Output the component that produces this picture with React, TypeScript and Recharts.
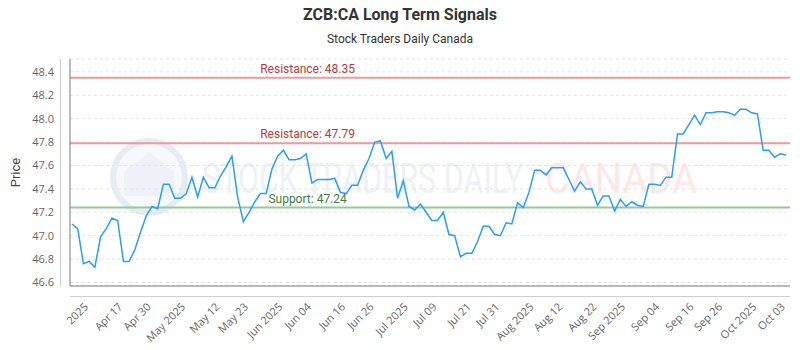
import React from 'react';
import { LineChart, Line, XAxis, YAxis, CartesianGrid, ReferenceLine } from 'recharts';

// closing prices, one per trading day
const prices = [
  47.10, 47.06, 46.76, 46.78, 46.73, 46.99, 47.06, 47.15, 47.13, 46.78,
  46.78, 46.88, 47.03, 47.17, 47.25, 47.23, 47.44, 47.44, 47.32, 47.32,
  47.36, 47.50, 47.33, 47.50, 47.41, 47.41, 47.51, 47.59, 47.68, 47.33,
  47.12, 47.20, 47.29, 47.36, 47.36, 47.57, 47.68, 47.73, 47.65, 47.65,
  47.66, 47.70, 47.45, 47.48, 47.48, 47.48, 47.49, 47.37, 47.36, 47.43,
  47.43, 47.56, 47.66, 47.80, 47.81, 47.66, 47.72, 47.32, 47.47, 47.25,
  47.22, 47.27, 47.20, 47.13, 47.13, 47.20, 47.01, 47.00, 46.82, 46.85,
  46.85, 46.95, 47.08, 47.08, 47.01, 47.00, 47.11, 47.10, 47.28, 47.24,
  47.37, 47.56, 47.56, 47.52, 47.58, 47.58, 47.58, 47.48, 47.38, 47.46,
  47.40, 47.40, 47.26, 47.34, 47.34, 47.21, 47.31, 47.25, 47.29, 47.26,
  47.25, 47.44, 47.44, 47.43, 47.50, 47.50, 47.87, 47.87, 47.95, 48.03,
  47.95, 48.05, 48.05, 48.06, 48.06, 48.05, 48.03, 48.08, 48.08, 48.05,
  48.04, 47.73, 47.73, 47.67, 47.70, 47.69,
];

const tickIndex = [2, 8, 13, 19, 25, 30, 36, 41, 47, 52, 58, 63, 69, 74, 80, 85, 91, 96, 102, 108, 113, 119, 124];
const tickLabels = [
  '2025', 'Apr 17', 'Apr 30', 'May 2025', 'May 12', 'May 23', 'Jun 2025', 'Jun 04', 'Jun 16', 'Jun 26',
  'Jul 2025', 'Jul 09', 'Jul 21', 'Jul 31', 'Aug 2025', 'Aug 12', 'Aug 22', 'Sep 2025', 'Sep 04', 'Sep 16',
  'Sep 26', 'Oct 2025', 'Oct 03',
];
const yTicks = [46.6, 46.8, 47.0, 47.2, 47.4, 47.6, 47.8, 48.0, 48.2, 48.4];

const resistanceLevels = [48.35, 47.79];
const supportLevels = [47.24];

const data = prices.map((price, i) => ({ i, price }));

const FONT = 'Roboto, "Open Sans", sans-serif';
const BOX = '#7a7a7a';

const LevelLabel = ({ viewBox, text, color }: any) => {
  const { x, y, width } = viewBox;
  return (
    <text x={x + width * 0.33} y={y - 5} fill={color} fontSize={12} fontFamily={FONT} textAnchor="middle">
      {text}
    </text>
  );
};

const PriceLabel = ({ viewBox }: any) => {
  const cy = viewBox.y + viewBox.height / 2;
  return (
    <text x={20} y={cy} fill="#444" fontSize={13} fontFamily={FONT} textAnchor="middle" transform={`rotate(-90 20 ${cy})`}>
      Price
    </text>
  );
};

export default function App() {
  return (
    <div style={{ position: 'fixed', left: 0, top: 0, width: 800, height: 350, background: '#fff', fontFamily: FONT }}>
      {/* watermark + offset axis lines */}
      <svg width={800} height={350} style={{ position: 'absolute', left: 0, top: 0 }}>
        <circle cx={149} cy={177} r={36} fill="#f6f8fc" stroke="#e6ebf4" strokeWidth={6} />
        <path d="M124 196 L124 172 L149 152 L174 172 L174 196 Z" fill="#eef2f8" />
        <text x={202} y={193} fontSize={42} fill="#eef1f7" textLength={321} lengthAdjust="spacingAndGlyphs" fontFamily={FONT}>
          STOCK TRADERS DAILY
        </text>
        <text x={545} y={193} fontSize={42} fill="#fde8e8" textLength={152} lengthAdjust="spacingAndGlyphs" fontFamily={FONT}>
          CANADA
        </text>
        <line x1={60.5} y1={59} x2={60.5} y2={287} stroke="#cfcfcf" />
        <line x1={70} y1={296.5} x2={790} y2={296.5} stroke="#cfcfcf" />
      </svg>

      <div style={{ position: 'absolute', top: 5, width: 800, textAlign: 'center', fontSize: 16, fontWeight: 700, color: '#333' }}>
        ZCB:CA Long Term Signals
      </div>
      <div style={{ position: 'absolute', top: 32, width: 800, textAlign: 'center', fontSize: 12, color: '#333' }}>
        Stock Traders Daily Canada
      </div>

      <div style={{ position: 'absolute', left: 0, top: 0 }}>
        <LineChart width={800} height={350} data={data} margin={{ top: 59, right: 10, bottom: 10, left: 10 }}>
          <CartesianGrid vertical={false} stroke="#e4e4e4" strokeDasharray="3 3" />
          <XAxis
            dataKey="i"
            type="number"
            domain={[0, prices.length - 1]}
            ticks={tickIndex}
            interval={0}
            tickFormatter={(v: number) => tickLabels[tickIndex.indexOf(v)]}
            padding={{ left: 2, right: 4 }}
            height={54}
            angle={-45}
            textAnchor="end"
            tickLine={false}
            tickSize={8}
            tickMargin={8}
            axisLine={{ stroke: BOX }}
            tick={{ fill: '#666', fontSize: 11, fontFamily: '"Open Sans", sans-serif' }}
          />
          <XAxis xAxisId="top" orientation="top" height={0} tick={false} tickLine={false} axisLine={{ stroke: BOX }} />
          <YAxis
            type="number"
            domain={[46.57, 48.51]}
            ticks={yTicks}
            interval={0}
            tickFormatter={(v: number) => v.toFixed(1)}
            width={60}
            tickLine={false}
            tickSize={8}
            tickMargin={8}
            axisLine={{ stroke: BOX }}
            tick={{ fill: '#666', fontSize: 11, fontFamily: '"Open Sans", sans-serif' }}
            label={<PriceLabel />}
          />
          <YAxis yAxisId="right" orientation="right" width={0} tick={false} tickLine={false} axisLine={{ stroke: BOX }} />
          {resistanceLevels.map((v) => (
            <ReferenceLine
              key={'r' + v}
              y={v}
              stroke="#f09a9a"
              strokeWidth={2}
              label={<LevelLabel text={`Resistance: ${v.toFixed(2)}`} color="#b43c3c" />}
            />
          ))}
          {supportLevels.map((v) => (
            <ReferenceLine
              key={'s' + v}
              y={v}
              stroke="#93cc93"
              strokeWidth={2}
              label={<LevelLabel text={`Support: ${v.toFixed(2)}`} color="#3f7d3f" />}
            />
          ))}
          <Line type="linear" dataKey="price" stroke="#2a9df4" strokeWidth={1.5} dot={false} isAnimationActive={false} />
        </LineChart>
      </div>
    </div>
  );
}
